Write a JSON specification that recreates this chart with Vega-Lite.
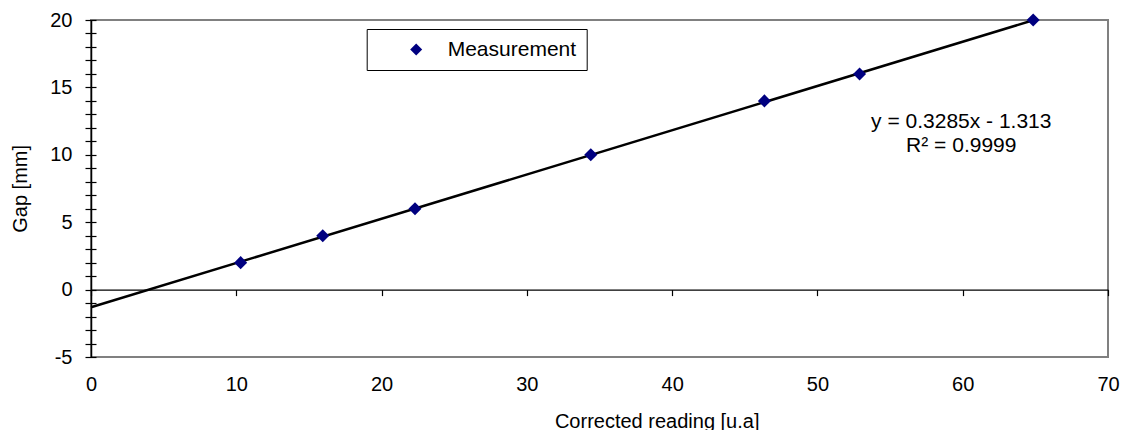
{
  "$schema": "https://vega.github.io/schema/vega-lite/v6.json",
  "width": 1017,
  "height": 337,
  "autosize": {"type": "none"},
  "padding": {"left": 91, "top": 20, "right": 14, "bottom": 73},
  "background": "white",
  "config": {
    "font": "Liberation Sans",
    "view": {"stroke": "#808080", "strokeWidth": 2},
    "axis": {
      "grid": false,
      "labelFont": "Liberation Sans",
      "labelFontSize": 20,
      "labelColor": "black",
      "labelFlush": false,
      "labelOverlap": false,
      "titleFont": "Liberation Sans",
      "titleFontSize": 20,
      "titleFontWeight": "normal",
      "titleColor": "black",
      "domainColor": "black",
      "tickColor": "black"
    }
  },
  "datasets": {
    "measurements": [
      {"reading": 10.3, "gap": 2, "series": "Measurement"},
      {"reading": 15.95, "gap": 4, "series": "Measurement"},
      {"reading": 22.3, "gap": 6, "series": "Measurement"},
      {"reading": 34.4, "gap": 10, "series": "Measurement"},
      {"reading": 46.35, "gap": 14, "series": "Measurement"},
      {"reading": 52.9, "gap": 16, "series": "Measurement"},
      {"reading": 64.85, "gap": 20, "series": "Measurement"}
    ],
    "trend": [
      {"x": 0, "y": -1.313},
      {"x": 64.9, "y": 20.0}
    ],
    "equation": [
      {"x": 59.9, "y": 12.0, "label": "y = 0.3285x - 1.313"},
      {"x": 59.9, "y": 10.2, "label": "R² = 0.9999"}
    ]
  },
  "resolve": {"axis": {"x": "independent", "y": "independent"}},
  "layer": [
    {
      "data": {"name": "trend"},
      "mark": {"type": "line", "color": "black", "strokeWidth": 2.5},
      "encoding": {
        "x": {
          "field": "x", "type": "quantitative",
          "scale": {"domain": [0, 70], "nice": false, "zero": false},
          "axis": {"orient": "bottom", "offset": -67.4, "labels": false, "title": null, "domain": true, "domainWidth": 1.2, "ticks": true, "tickSize": 6, "tickWidth": 1.2, "values": [0, 10, 20, 30, 40, 50, 60, 70]}
        },
        "y": {
          "field": "y", "type": "quantitative",
          "scale": {"domain": [-5, 20], "nice": false, "zero": false},
          "axis": {"orient": "left", "offset": -5, "labels": false, "title": null, "domain": false, "ticks": true, "tickSize": 11, "tickWidth": 1.2, "values": [-5, -4, -3, -2, -1, 0, 1, 2, 3, 4, 5, 6, 7, 8, 9, 10, 11, 12, 13, 14, 15, 16, 17, 18, 19, 20]}
        }
      }
    },
    {
      "data": {"name": "measurements"},
      "mark": {"type": "point", "shape": "diamond", "filled": true, "size": 170, "opacity": 1},
      "encoding": {
        "x": {
          "field": "reading", "type": "quantitative",
          "axis": {"orient": "bottom", "domain": false, "ticks": false, "tickSize": 0, "labelPadding": 17, "values": [0, 10, 20, 30, 40, 50, 60, 70], "title": "Corrected reading [u.a]", "titleX": 565.7, "titleY": 70, "titleBaseline": "alphabetic", "titleAlign": "center"}
        },
        "y": {
          "field": "gap", "type": "quantitative",
          "axis": {"orient": "left", "values": [-5, 0, 5, 10, 15, 20], "labelExpr": "replace(datum.label, '\u2212', '-')", "ticks": false, "tickSize": 0, "domain": true, "domainWidth": 1.5, "labelPadding": 19, "title": "Gap [mm]", "titleX": -64.5, "titleY": 168.35, "titleBaseline": "alphabetic", "titleAngle": -90, "titleAlign": "center"}
        },
        "color": {
          "field": "series", "type": "nominal",
          "scale": {"range": ["#000080"]},
          "legend": {
            "orient": "none", "legendX": 275.7, "legendY": 9, "title": null,
            "symbolType": "diamond", "symbolSize": 144, "symbolStrokeWidth": 0,
            "labelFontSize": 21, "labelFont": "Liberation Sans", "labelColor": "black",
            "strokeColor": "black", "fillColor": "white", "padding": 10,
            "symbolOffset": 29, "labelOffset": 21
          }
        }
      }
    },
    {
      "data": {"name": "equation"},
      "mark": {"type": "text", "fontSize": 21, "align": "center", "baseline": "alphabetic", "color": "black", "font": "Liberation Sans"},
      "encoding": {
        "x": {"field": "x", "type": "quantitative", "axis": null},
        "y": {"field": "y", "type": "quantitative", "axis": null},
        "text": {"field": "label"}
      }
    }
  ]
}
